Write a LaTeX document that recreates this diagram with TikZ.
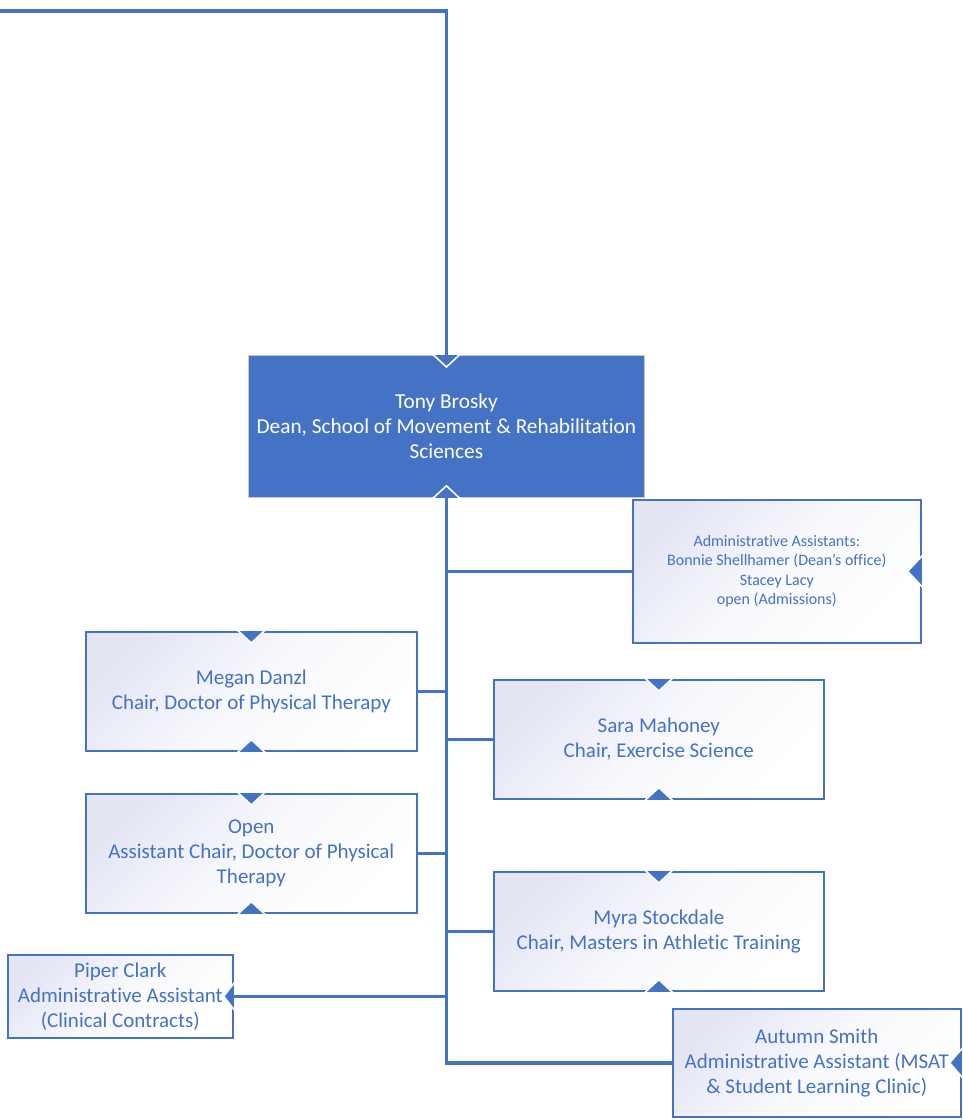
\documentclass[tikz,border=0pt]{standalone}
\usepackage{fontspec}
\setmainfont[Ligatures=NoCommon]{Carlito}
\definecolor{blueC}{HTML}{4472C4}
\definecolor{lav}{HTML}{E4E6F4}
\definecolor{deanEdge}{HTML}{C8C8C8}
\tikzset{
  conn/.style={draw=blueC, line width=3.5pt, line join=miter},
  lbox/.style={draw=blueC, line width=1.6pt, top color=lav, bottom color=white, middle color=white!75!lav, shading angle=45,
     text=blueC, align=center, inner sep=0pt, anchor=north west, font=\fontsize{21}{25}\selectfont},
  deanbox/.style={draw=deanEdge, line width=0.8pt, fill=blueC, text=white, align=center,
     inner sep=0pt, anchor=north west, font=\fontsize{21.3}{25}\selectfont},
  mkfill/.style={fill=blueC},
  mkedge/.style={draw=white, line width=1.6pt, line join=miter},
}
\newcommand{\mkdown}[1]{% triangle pointing down at a north anchor
  \fill[mkfill] ([xshift=-13pt]#1) -- ([xshift=13pt]#1) -- ([yshift=-12pt]#1) -- cycle;
  \draw[mkedge] ([xshift=-14pt,yshift=1pt]#1) -- ([yshift=-12pt]#1) -- ([xshift=14pt,yshift=1pt]#1);}
\newcommand{\mkup}[1]{% triangle pointing up at a south anchor
  \fill[mkfill] ([xshift=-13pt]#1) -- ([xshift=13pt]#1) -- ([yshift=12pt]#1) -- cycle;
  \draw[mkedge] ([xshift=-14pt,yshift=-1pt]#1) -- ([yshift=12pt]#1) -- ([xshift=14pt,yshift=-1pt]#1);}
\newcommand{\mkleft}[3]{% triangle pointing left at an east anchor; #2 half height, #3 depth
  \fill[mkfill] ([yshift=-#2]#1) -- ([yshift=#2]#1) -- ([xshift=-#3]#1) -- cycle;
  \draw[mkedge] ([xshift=1pt,yshift=-#2-1pt]#1) -- ([xshift=-#3]#1) -- ([xshift=1pt,yshift=#2+1pt]#1);}
\begin{document}
\begin{tikzpicture}[x=1pt,y=-1pt]
\useasboundingbox (0,0) rectangle (963,1120);

% nodes
\node[deanbox, minimum width=396pt, minimum height=142pt] (dean) at (248,355)
  {Tony Brosky\\Dean, School of Movement \& Rehabilitation\\Sciences};
\node[lbox, minimum width=288pt, minimum height=143pt, font=\fontsize{16}{19.6}\selectfont] (admin) at (632,499)
  {Administrative Assistants:\\Bonnie Shellhamer (Dean’s office)\\Stacey Lacy\\open (Admissions)};
\node[lbox, minimum width=331pt, minimum height=119pt] (megan) at (85,631)
  {Megan Danzl\\Chair, Doctor of Physical Therapy};
\node[lbox, minimum width=330pt, minimum height=119pt] (sara) at (493,679)
  {Sara Mahoney\\Chair, Exercise Science};
\node[lbox, minimum width=331pt, minimum height=119pt] (open) at (85,793)
  {Open\\Assistant Chair, Doctor of Physical\\Therapy};
\node[lbox, minimum width=330pt, minimum height=119pt] (myra) at (493,871)
  {Myra Stockdale\\Chair, Masters in Athletic Training};
\node[lbox, minimum width=225pt, minimum height=83pt] (piper) at (7,954)
  {Piper Clark\\Administrative Assistant\\(Clinical Contracts)};
\node[lbox, minimum width=288pt, minimum height=108pt] (autumn) at (672,1008)
  {Autumn Smith\\Administrative Assistant (MSAT\\\& Student Learning Clinic)};

% connectors
\coordinate (topleft) at (0,11);
\draw[conn] (topleft) -| (dean.north);
\draw[conn] (dean.south) |- (autumn.west);
\draw[conn] (admin.west -| dean.south) -- (admin.west);
\draw[conn] (megan.east) -- (megan.east -| dean.south);
\draw[conn] (sara.west -| dean.south) -- (sara.west);
\draw[conn] (open.east) -- (open.east -| dean.south);
\draw[conn] (myra.west -| dean.south) -- (myra.west);
\draw[conn] (piper.east -| dean.south) -- (piper.east);

% dean border over line ends
\draw[draw=deanEdge, line width=0.8pt] (dean.north west) rectangle (dean.south east);

% markers
\mkdown{dean.north}
\mkup{dean.south}
\mkdown{megan.north}
\mkup{megan.south}
\mkdown{sara.north}
\mkup{sara.south}
\mkdown{open.north}
\mkup{open.south}
\mkdown{myra.north}
\mkup{myra.south}
\mkleft{admin.east}{15pt}{14pt}
\mkleft{piper.east}{13pt}{10pt}
\mkleft{autumn.east}{14pt}{12pt}
\end{tikzpicture}
\end{document}
